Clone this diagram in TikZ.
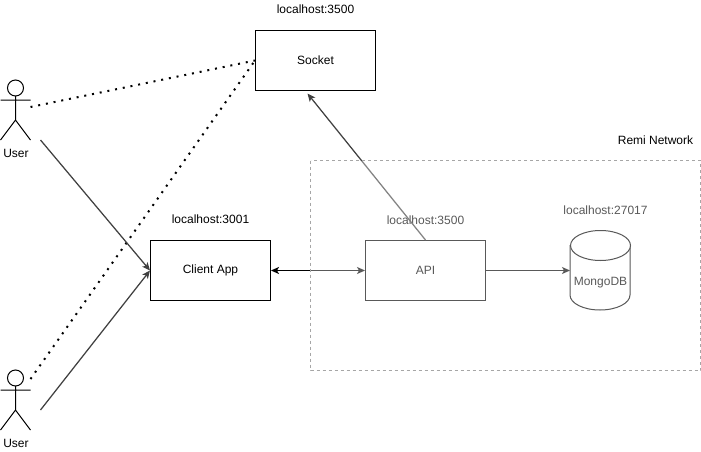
\documentclass[tikz,border=0pt]{standalone}
\usepackage{fontspec}
\setmainfont{Liberation Sans}
\usetikzlibrary{arrows.meta}

\begin{document}
\begin{tikzpicture}[x=1pt,y=-1pt,line width=1pt,>={Stealth[length=8pt,width=7pt,inset=2pt]},
    font=\fontsize{12}{14}\selectfont,
    user/.style={draw=none,text depth=0pt},
    slant/.style={draw=black!75,line width=1.25pt},
    dots/.style={line width=2pt,dash pattern=on 2pt off 5.85pt}]

    % `operator' boxes are the three services.
    % `store' holds the database outline, `tag' the address text.
    \tikzstyle{operator} = [draw,fill=white,minimum width=120pt,minimum height=60pt,inner sep=0pt]
    \tikzstyle{store} = [minimum width=60pt,minimum height=80pt,inner sep=0pt]
    \tikzstyle{tag} = [inner sep=0pt]

    \useasboundingbox (0,0) rectangle (701,452);

    % Boxes.
    \node[operator] (socket) at (315.5,60.5) {Socket};
    \node[operator] (client) at (210.5,270.5) {Client App};
    \node[operator] (api) at (425.5,270.5) {API};

    % Database drum.
    \node[store] (mongo) at (600.5,270.5) {};
    \draw[fill=white] (mongo.north west) ++(0,15) -- ++(0,50)
        arc[start angle=180,end angle=0,x radius=30,y radius=15] -- ++(0,-50);
    \draw[fill=white] (600.5,245.5) ellipse[x radius=30,y radius=15];
    \node[tag] (mongotext) at (600.5,283) {MongoDB};

    % Address labels.
    \node[tag] (socketaddr) at (315.5,9.5) {localhost:3500};
    \node[tag] (clientaddr) at (210.5,219.5) {localhost:3001};
    \node[tag] (apiaddr) at (425.5,220.5) {localhost:3500};
    \node[tag] (mongoaddr) at (605.5,210.5) {localhost:27017};
    \node[tag] (netname) at (655.5,140.5) {Remi Network};

    % First user.
    \draw (15.5,88) circle (8);
    \draw (15.5,96) -- (15.5,120) (0.5,100) -- (30.5,100)
          (0.5,140) -- (15.5,120) -- (30.5,140);
    \node[user] (user1) at (16,153.5) {User};
    \coordinate (u1dot) at (30.5,107);
    \coordinate (u1line) at (40.5,140);

    % Second user.
    \draw (15.5,378) circle (8);
    \draw (15.5,386) -- (15.5,410) (0.5,390) -- (30.5,390)
          (0.5,430) -- (15.5,410) -- (30.5,430);
    \node[user] (user2) at (16,443.5) {User};
    \coordinate (u2dot) at (30.5,379);
    \coordinate (u2line) at (40.5,410);

    % Connectors.
    \draw[dots] (u1dot) -- (socket.west);
    \draw[dots] (u2dot) -- (socket.west);
    \draw[->,slant] (u1line) -- (client.west);
    \draw[->,slant] (u2line) -- (client.west);
    \draw[<->] (client.east) -- (api.west);
    \draw[->] (api.east) -- (mongo.west);
    \coordinate (sockettip) at (307.5,93.5);
    \draw[->,slant] (api.north) -- (sockettip);

    % Network frame lies over everything inside it.
    \draw[draw=black!35,dash pattern=on 3pt off 3pt,fill=white,fill opacity=0.35]
        (310.5,160.5) rectangle (700.5,370.5);
\end{tikzpicture}
\end{document}
